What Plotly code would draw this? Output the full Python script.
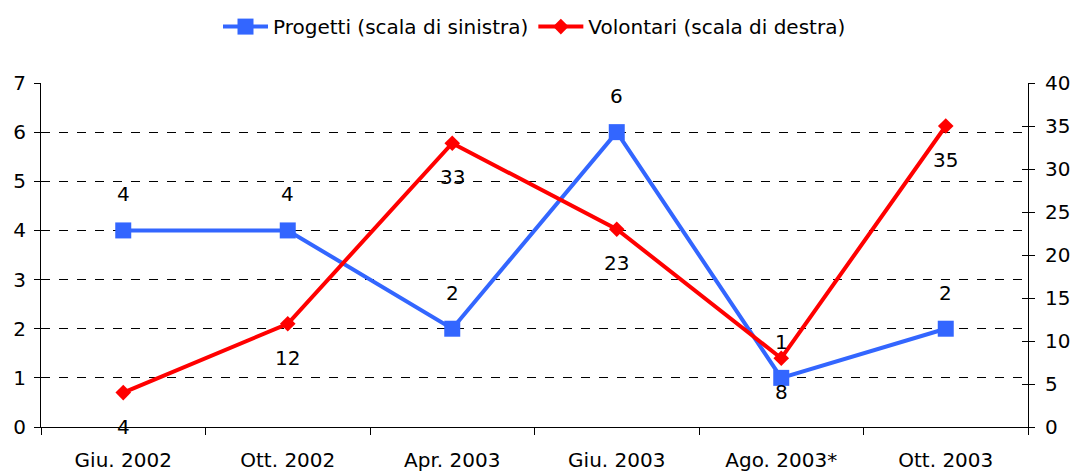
import plotly.graph_objects as go

categories = ["Giu. 2002", "Ott. 2002", "Apr. 2003", "Giu. 2003", "Ago. 2003*", "Ott. 2003"]
progetti = [4, 4, 2, 6, 1, 2]
volontari = [4, 12, 33, 23, 8, 35]

FONT = "DejaVu Sans"
FS = 20
BLUE = "#3366FF"
RED = "#FF0000"

fig = go.Figure()
fig.add_trace(go.Scatter(
    x=categories, y=progetti, name="Progetti (scala di sinistra)",
    mode="lines+markers", line=dict(color=BLUE, width=4),
    marker=dict(symbol="square", size=16, color=BLUE), yaxis="y"))
fig.add_trace(go.Scatter(
    x=categories, y=volontari, name="Volontari (scala di destra)",
    mode="lines+markers", line=dict(color=RED, width=4),
    marker=dict(symbol="diamond", size=12, color=RED), yaxis="y2"))

annotations = []
for c, v in zip(categories, progetti):
    annotations.append(dict(x=c, y=v, xref="x", yref="y", text=str(v), showarrow=False,
                            yshift=36, font=dict(family=FONT, size=FS, color="black")))
for c, v in zip(categories, volontari):
    annotations.append(dict(x=c, y=v, xref="x", yref="y2", text=str(v), showarrow=False,
                            yshift=-34, font=dict(family=FONT, size=FS, color="black")))

fig.update_layout(
    width=1074, height=473,
    margin=dict(l=41, r=46, t=83, b=46, autoexpand=False),
    paper_bgcolor="white", plot_bgcolor="white",
    font=dict(family=FONT, size=FS, color="black"),
    showlegend=True,
    legend=dict(orientation="h", x=0.5, xanchor="center", y=0.985, yref="container",
                yanchor="top", font=dict(family=FONT, size=FS), itemwidth=45,
                tracegroupgap=0),
    xaxis=dict(type="category", showgrid=False, showline=True, linecolor="black", linewidth=1,
               ticks="outside", tickson="boundaries", ticklen=7, tickcolor="black",
               range=[-0.5, 5.5], tickfont=dict(size=FS), ticklabelstandoff=15),
    yaxis=dict(range=[0, 7], dtick=1, showgrid=True, gridcolor="black", griddash="dash",
               gridwidth=1, showline=True, linecolor="black", ticks="outside", ticklen=6,
               tickcolor="black", zeroline=False, tickfont=dict(size=FS), ticklabelstandoff=4),
    yaxis2=dict(range=[0, 40], dtick=5, overlaying="y", side="right", showgrid=False,
                showline=True, linecolor="black", ticks="outside", ticklen=6, tickcolor="black",
                zeroline=False, tickfont=dict(size=FS), ticklabelstandoff=6),
    yaxis3=dict(range=[0, 7], dtick=1, overlaying="y", side="left", showgrid=False,
                showline=False, ticks="inside", ticklen=6, tickcolor="black",
                showticklabels=False, zeroline=False),
    yaxis4=dict(range=[0, 40], dtick=5, overlaying="y", side="right", showgrid=False,
                showline=False, ticks="inside", ticklen=6, tickcolor="black",
                showticklabels=False, zeroline=False),
    annotations=annotations,
)
# invisible traces to activate the inside-tick helper axes
fig.add_trace(go.Scatter(x=[categories[0]], y=[None], yaxis="y3", showlegend=False, hoverinfo="skip"))
fig.add_trace(go.Scatter(x=[categories[0]], y=[None], yaxis="y4", showlegend=False, hoverinfo="skip"))

fig.write_html("out.html", config={"displayModeBar": False},
               post_script="document.body.style.margin='0';document.body.style.overflow='hidden';")
